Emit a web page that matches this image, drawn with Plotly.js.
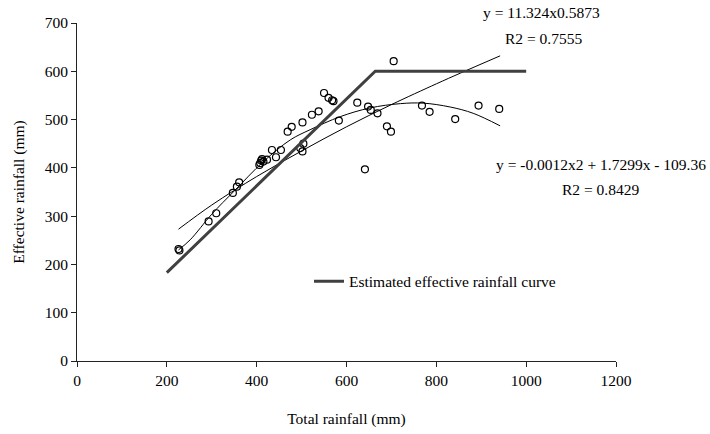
<!DOCTYPE html>
<html>
<head>
<meta charset="utf-8">
<script src="https://cdn.plot.ly/plotly-3.0.1.min.js"></script>
<style>html,body{margin:0;padding:0;background:#fff;}#chart{width:710px;height:434px;}</style>
</head>
<body>
<div id="chart"></div>
<script>
// Observed points (total rainfall vs effective rainfall, mm)
var obsX = [226,228,293,310,347,356,361,406,408,410,412,415,423,434,443,454,469,478,497,502,504,502,523,538,550,560,568,571,583,624,641,648,654,669,690,699,705,768,785,842,894,940];
var obsY = [232,229,289,306,348,361,370,406,410,415,418,413,417,437,422,437,475,485,441,434,450,494,510,517,555,545,540,538,498,535,397,527,520,513,486,475,621,529,516,501,529,522];

// Estimated effective rainfall curve
var estX = [200, 664, 1000];
var estY = [183, 600, 600];

// Power trend line
var powX = [226, 300, 400, 500, 600, 700, 800, 853, 942];
var powY = [273, 323, 382, 435, 485, 531, 574, 596, 632];

// Polynomial trend line
var polX = [226, 252, 300, 350, 415, 475, 519, 586, 652, 720, 771, 831, 882, 942];
var polY = [230, 251, 304, 352, 413, 458, 479, 506, 524, 533, 534, 526, 513, 487];

var xTicks = [0, 200, 400, 600, 800, 1000, 1200];
var yTicks = [0, 100, 200, 300, 400, 500, 600, 700];

var FONT = "'Liberation Serif', 'Times New Roman', serif";

var traces = [
  {x: polX, y: polY, mode: 'lines', line: {color: '#000', width: 1, shape: 'spline'}, showlegend: false, hoverinfo: 'skip'},
  {x: powX, y: powY, mode: 'lines', line: {color: '#000', width: 1, shape: 'spline'}, showlegend: false, hoverinfo: 'skip'},
  {x: obsX, y: obsY, mode: 'markers', marker: {symbol: 'circle-open', size: 7, color: '#000', line: {width: 1.2, color: '#000'}}, showlegend: false},
  {x: estX, y: estY, mode: 'lines', name: 'Estimated effective rainfall curve', line: {color: '#404040', width: 3}, showlegend: true}
];

var axisCommon = {
  showgrid: false, zeroline: false, showline: true, linecolor: '#222', linewidth: 1,
  ticks: 'outside', ticklen: 5, tickcolor: '#222', tickwidth: 1,
  tickfont: {family: FONT, size: 15.5, color: '#000'}
};

var layout = {
  width: 710, height: 434,
  margin: {l: 77, r: 94, t: 23, b: 73},
  paper_bgcolor: '#fff', plot_bgcolor: '#fff',
  font: {family: FONT, size: 15.5, color: '#000'},
  xaxis: Object.assign({}, axisCommon, {
    range: [0, 1200], tickvals: xTicks, ticktext: xTicks.map(String),
    title: {text: 'Total rainfall (mm)', font: {family: FONT, size: 15.5, color: '#000'}, standoff: 25}
  }),
  yaxis: Object.assign({}, axisCommon, {
    range: [0, 700], tickvals: yTicks, ticktext: yTicks.map(String),
    title: {text: 'Effective rainfall (mm)', font: {family: FONT, size: 15.5, color: '#000'}, standoff: 16}
  }),
  showlegend: true,
  legend: {x: 0.4304, xanchor: 'left', y: 0.2346, yanchor: 'middle', bgcolor: 'rgba(0,0,0,0)', borderwidth: 0,
           font: {family: FONT, size: 15.5, color: '#000'}},
  annotations: [
    {xref: 'paper', yref: 'paper', x: 0.861, y: 1.0296, text: 'y = 11.324x0.5873', showarrow: false, xanchor: 'center', yanchor: 'middle', font: {family: FONT, size: 15.5, color: '#000'}},
    {xref: 'paper', yref: 'paper', x: 0.866, y: 0.9527, text: 'R2 = 0.7555', showarrow: false, xanchor: 'center', yanchor: 'middle', font: {family: FONT, size: 15.5, color: '#000'}},
    {xref: 'paper', yref: 'paper', x: 0.972, y: 0.580, text: 'y = -0.0012x2 + 1.7299x - 109.36', showarrow: false, xanchor: 'center', yanchor: 'middle', font: {family: FONT, size: 15.5, color: '#000'}},
    {xref: 'paper', yref: 'paper', x: 0.972, y: 0.506, text: 'R2 = 0.8429', showarrow: false, xanchor: 'center', yanchor: 'middle', font: {family: FONT, size: 15.5, color: '#000'}}
  ]
};

Plotly.newPlot('chart', traces, layout, {staticPlot: true, displayModeBar: false});
</script>
</body>
</html>
